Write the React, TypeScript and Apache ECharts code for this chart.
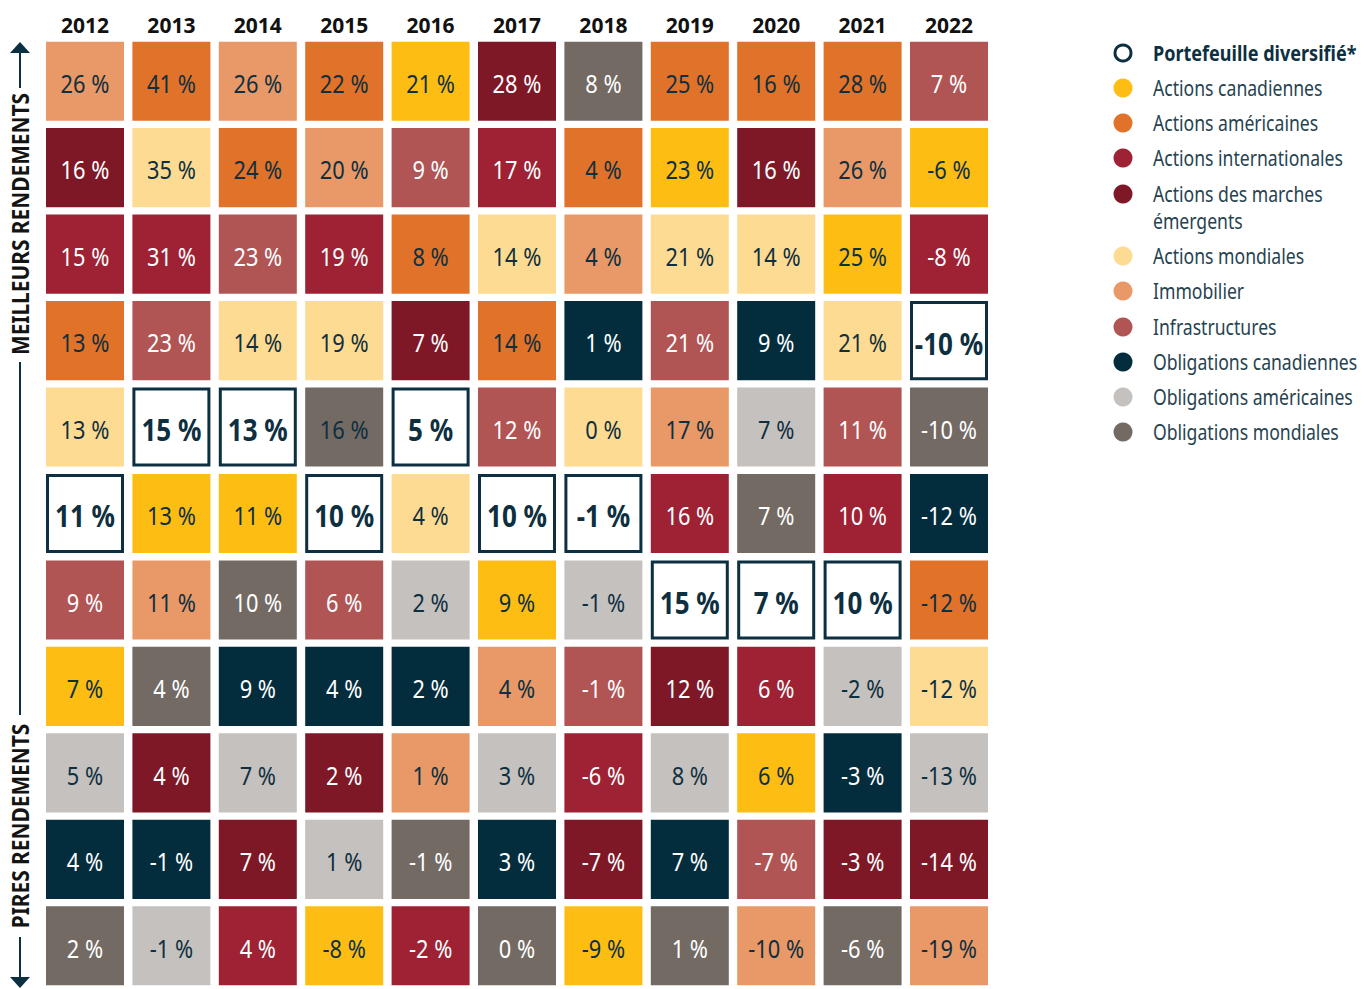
import React, { useEffect, useRef } from 'react';
import * as echarts from 'echarts';

const years = ['2012', '2013', '2014', '2015', '2016', '2017', '2018', '2019', '2020', '2021', '2022'];
const ranks = ['1', '2', '3', '4', '5', '6', '7', '8', '9', '10', '11'];

const assetCodes = ['P', 'CA', 'US', 'INT', 'EM', 'WE', 'RE', 'INF', 'CB', 'UB', 'WB'];
const assetNames = [
  'Portefeuille diversifié*',
  'Actions canadiennes',
  'Actions américaines',
  'Actions internationales',
  'Actions des marches\némergents',
  'Actions mondiales',
  'Immobilier',
  'Infrastructures',
  'Obligations canadiennes',
  'Obligations américaines',
  'Obligations mondiales',
];
const assetColors = ['#ffffff', '#FDBD13', '#E07229', '#9E2233', '#7E1827', '#FEDB92', '#E89967', '#B15454', '#032D3D', '#C5C1BE', '#736A64'];
const lightAssets = ['P', 'CA', 'US', 'WE', 'RE', 'UB'];
const darkTextExceptions = [['2015', 'WB']];

// best to worst, per year
const rankedAssets: string[][] = [
  ['RE', 'EM', 'INT', 'US', 'WE', 'P', 'INF', 'CA', 'UB', 'CB', 'WB'],
  ['US', 'WE', 'INT', 'INF', 'P', 'CA', 'RE', 'WB', 'EM', 'CB', 'UB'],
  ['RE', 'US', 'INF', 'WE', 'P', 'CA', 'WB', 'CB', 'UB', 'EM', 'INT'],
  ['US', 'RE', 'INT', 'WE', 'WB', 'P', 'INF', 'CB', 'EM', 'UB', 'CA'],
  ['CA', 'INF', 'US', 'EM', 'P', 'WE', 'UB', 'CB', 'RE', 'WB', 'INT'],
  ['EM', 'INT', 'WE', 'US', 'INF', 'P', 'CA', 'RE', 'UB', 'CB', 'WB'],
  ['WB', 'US', 'RE', 'CB', 'WE', 'P', 'UB', 'INF', 'INT', 'EM', 'CA'],
  ['US', 'CA', 'WE', 'INF', 'RE', 'INT', 'P', 'EM', 'UB', 'CB', 'WB'],
  ['US', 'EM', 'WE', 'CB', 'UB', 'WB', 'P', 'INT', 'CA', 'INF', 'RE'],
  ['US', 'RE', 'CA', 'WE', 'INF', 'INT', 'P', 'UB', 'CB', 'EM', 'WB'],
  ['INF', 'CA', 'INT', 'P', 'WB', 'CB', 'US', 'WE', 'UB', 'EM', 'RE'],
];
const rankedReturns: number[][] = [
  [26, 16, 15, 13, 13, 11, 9, 7, 5, 4, 2],
  [41, 35, 31, 23, 15, 13, 11, 4, 4, -1, -1],
  [26, 24, 23, 14, 13, 11, 10, 9, 7, 7, 4],
  [22, 20, 19, 19, 16, 10, 6, 4, 2, 1, -8],
  [21, 9, 8, 7, 5, 4, 2, 2, 1, -1, -2],
  [28, 17, 14, 14, 12, 10, 9, 4, 3, 3, 0],
  [8, 4, 4, 1, 0, -1, -1, -1, -6, -7, -9],
  [25, 23, 21, 21, 17, 16, 15, 12, 8, 7, 1],
  [16, 16, 14, 9, 7, 7, 7, 6, 6, -7, -10],
  [28, 26, 25, 21, 11, 10, 10, -2, -3, -3, -6],
  [7, -6, -8, -10, -10, -12, -12, -12, -13, -14, -19],
];

const FONT = "'Noto Sans', 'Open Sans', sans-serif";
const NAVY = '#0C3041';
const DARK_TEXT = '#0E2F3F';

export default function App() {
  const ref = useRef<HTMLDivElement>(null);

  useEffect(() => {
    if (!ref.current) return;
    const chart = echarts.init(ref.current, null, { renderer: 'svg' });

    const cells: number[][] = [];
    rankedAssets.forEach((col, xi) => {
      col.forEach((code, yi) => {
        cells.push([xi, yi, assetCodes.indexOf(code), rankedReturns[xi][yi]]);
      });
    });

    const legendY = [53, 88, 123, 158, 194, 256, 291, 327, 362, 397, 432];
    const legendGraphics: any[] = [];
    assetNames.forEach((name, i) => {
      const isP = i === 0;
      legendGraphics.push({
        type: 'circle',
        shape: { cx: 1123, cy: legendY[i], r: isP ? 8 : 9.5 },
        style: isP ? { fill: '#fff', stroke: NAVY, lineWidth: 3 } : { fill: assetColors[i] },
      });
      legendGraphics.push({
        type: 'text',
        x: 1153,
        y: legendY[i] - 13.5,
        scaleX: isP ? 0.82 : 0.8,
        style: {
          text: name,
          fill: isP ? NAVY : '#27434F',
          font: `${isP ? 'bold ' : ''}22px ${FONT}`,
          align: 'left',
          verticalAlign: 'top',
          lineHeight: 27,
        },
      });
    });

    const axisGraphics: any[] = [
      { type: 'polygon', shape: { points: [[10, 53], [20, 42], [30, 53]] }, style: { fill: NAVY } },
      { type: 'line', shape: { x1: 20, y1: 52, x2: 20, y2: 88 }, style: { stroke: NAVY, lineWidth: 2 } },
      {
        type: 'text', x: 20, y: 224, rotation: Math.PI / 2, scaleX: 0.87,
        style: { text: 'MEILLEURS RENDEMENTS', fill: '#141414', font: `bold 24px ${FONT}`, align: 'center', verticalAlign: 'middle' },
      },
      { type: 'line', shape: { x1: 20, y1: 362, x2: 20, y2: 715 }, style: { stroke: NAVY, lineWidth: 2 } },
      {
        type: 'text', x: 20, y: 826, rotation: Math.PI / 2, scaleX: 0.87,
        style: { text: 'PIRES RENDEMENTS', fill: '#141414', font: `bold 24px ${FONT}`, align: 'center', verticalAlign: 'middle' },
      },
      { type: 'line', shape: { x1: 20, y1: 937, x2: 20, y2: 978 }, style: { stroke: NAVY, lineWidth: 2 } },
      { type: 'polygon', shape: { points: [[10, 977], [30, 977], [20, 988]] }, style: { fill: NAVY } },
    ];

    chart.setOption({
      animation: false,
      backgroundColor: '#ffffff',
      grid: { left: 41.8, top: 38, width: 950.4, height: 960.3 },
      xAxis: {
        type: 'category',
        data: years,
        position: 'top',
        axisLine: { show: false },
        axisTick: { show: false },
        splitLine: { show: false },
        axisLabel: {
          color: '#111111',
          fontFamily: FONT,
          fontWeight: 'bold',
          fontSize: 21,
          margin: 13,
          verticalAlign: 'middle',
        },
      },
      yAxis: {
        type: 'category',
        data: ranks,
        inverse: true,
        show: false,
      },
      series: [
        {
          type: 'custom',
          data: cells,
          renderItem: (params: any, api: any) => {
            const xi = api.value(0);
            const yi = api.value(1);
            const ai = api.value(2);
            const v = api.value(3);
            const c = api.coord([xi, yi]);
            const s = api.size([1, 1]);
            const w = s[0] - 8.4;
            const h = s[1] - 7.3;
            const x0 = c[0] - w / 2;
            const y0 = c[1] - h / 2;
            const code = assetCodes[ai];
            const isP = code === 'P';
            const exception = darkTextExceptions.some((e) => e[0] === years[xi] && e[1] === code);
            const textColor = lightAssets.includes(code) || exception ? DARK_TEXT : '#ffffff';
            return {
              type: 'group',
              children: [
                {
                  type: 'rect',
                  shape: isP
                    ? { x: x0 + 1.5, y: y0 + 1.5, width: w - 3, height: h - 3 }
                    : { x: x0, y: y0, width: w, height: h },
                  style: isP
                    ? { fill: '#ffffff', stroke: NAVY, lineWidth: 3 }
                    : { fill: assetColors[ai] },
                },
                {
                  type: 'text',
                  x: c[0],
                  y: c[1] + 1.5,
                  scaleX: 0.84,
                  style: {
                    text: `${v} %`,
                    fill: textColor,
                    font: `${isP ? 'bold 31px' : '26px'} ${FONT}`,
                    align: 'center',
                    verticalAlign: 'middle',
                  },
                },
              ],
            };
          },
        },
      ],
      graphic: [...axisGraphics, ...legendGraphics],
    });

    return () => chart.dispose();
  }, []);

  return (
    <div
      ref={ref}
      style={{ position: 'fixed', left: 0, top: 0, width: 1366, height: 989, background: '#fff' }}
    />
  );
}
